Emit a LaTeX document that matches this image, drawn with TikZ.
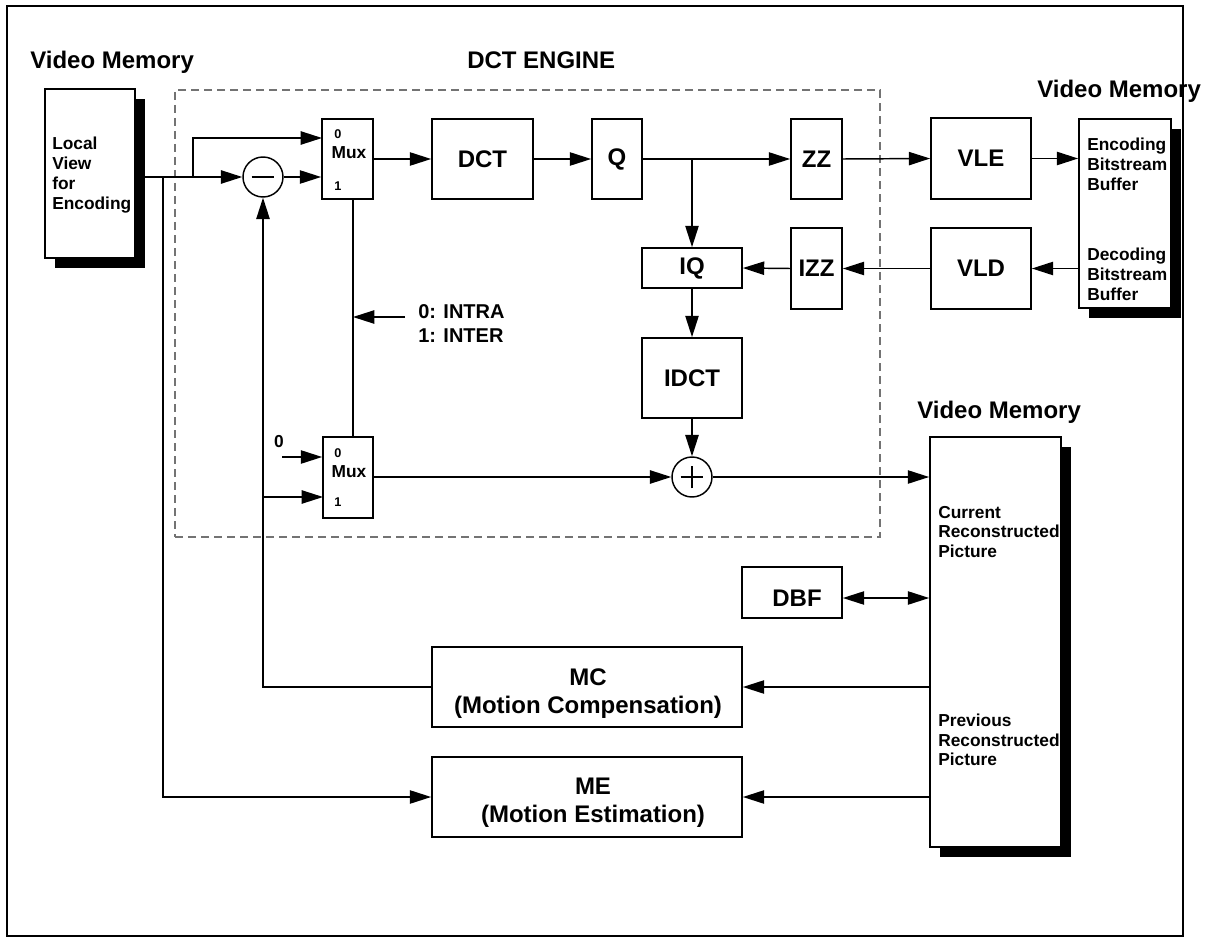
\documentclass[tikz,border=0pt]{standalone}
\usepackage{fontspec}
\setmainfont{Liberation Sans}
\usetikzlibrary{arrows.meta,shadows,calc}
\begin{document}
\begin{tikzpicture}[x=0.75pt,y=-0.75pt,
  lw/.style={line width=1.1pt},
  tip/.style={Triangle[length=16pt,width=10pt]},
  arr/.style={lw,-{Triangle[length=16pt,width=10pt]}},
  bx/.style 2 args={draw,line width=1.3pt,fill=white,inner sep=0pt,minimum width=#1*0.75pt,minimum height=#2*0.75pt,font=\fontsize{18}{22}\selectfont\bfseries},
  shd/.style={drop shadow={shadow xshift=7.5pt,shadow yshift=-7.5pt,fill=black,opacity=1}},
  circ/.style={draw,circle,fill=white,line width=1.1pt,minimum size=30pt,inner sep=0pt},
  big/.style={font=\fontsize{18}{21}\selectfont\bfseries,inner sep=0pt},
  small/.style={font=\fontsize{13}{15}\selectfont\bfseries,align=left,inner sep=0pt,anchor=north west},
  digit/.style={font=\fontsize{9.5}{11}\selectfont\bfseries,inner sep=0pt},
  muxt/.style={font=\fontsize{13}{15}\selectfont\bfseries,inner sep=0pt},
]
\useasboundingbox (0,0) rectangle (1214,938);

% DCT engine dashed box
\node[draw=black!55,line width=0.8pt,dash pattern=on 6pt off 3.75pt,inner sep=0pt,
      minimum width=705*0.75pt,minimum height=447*0.75pt] (eng) at (527.5,313.5) {};

% titles
\node[big,anchor=base west] (vm1) at (30,69) {Video Memory};
\node[big,anchor=base west] (engt) at (467,69) {DCT ENGINE};
\node[big,anchor=base west] (vm2) at (1037,98) {Video Memory};
\node[big,anchor=base west] (vm3) at (917,418) {Video Memory};

% memories
\node[bx={90}{169},shd] (lv) at (90,173.5) {};
\node[small] (lvt) at (52,136.5) {Local\\View\\for\\Encoding};
\node[bx={92}{189},shd] (enc) at (1125,213.5) {};
\node[small] (enct) at (1087,137.5) {Encoding\\Bitstream\\Buffer};
\node[small] (dect) at (1087,247.5) {Decoding\\Bitstream\\Buffer};
\node[bx={131}{410},shd] (mem) at (995.5,642) {};
\node[small,font=\fontsize{13}{14.5}\selectfont\bfseries] (curt) at (938,506) {Current\\Reconstructed\\Picture};
\node[small,font=\fontsize{13}{14.5}\selectfont\bfseries] (prevt) at (938,714) {Previous\\Reconstructed\\Picture};

% processing blocks
\node[bx={51}{80}] (mux1) at (347.5,159) {};
\node[digit] (m1z) at (338,134) {0};
\node[muxt] (m1m) at (349,153) {Mux};
\node[digit] (m1o) at (338,186) {1};
\node[bx={101}{80}] (dct) at (482.5,159) {DCT};
\node[bx={50}{80}] (q) at (617,159) {Q};
\node[bx={51}{80}] (zz) at (816.5,159) {ZZ};
\node[bx={100}{81}] (vle) at (981,158.5) {VLE};
\node[bx={100}{40}] (iq) at (692,268) {IQ};
\node[bx={51}{81}] (izz) at (816.5,268.5) {IZZ};
\node[bx={100}{81}] (vld) at (981,268.5) {VLD};
\node[bx={100}{80}] (idct) at (692,378) {IDCT};
\node[circ] (sub) at (263,177) {};
\node[circ] (add) at (692,477) {};
\node[bx={50}{81}] (mux2) at (348,477.5) {};
\node[digit] (m2z) at (338,453) {0};
\node[muxt] (m2m) at (349,472) {Mux};
\node[digit] (m2o) at (338,502) {1};
\node[bx={100}{51}] (dbf) at (792,592.5) {};
\node[big] (dbft) at (797,598) {DBF};
\node[bx={310}{80}] (mc) at (587,687) {};
\node[big,align=center] (mct) at (588,694) {MC\\(Motion Compensation)};
\node[bx={310}{80}] (me) at (587,797) {};
\node[big,align=center] (met) at (593,803) {ME\\(Motion Estimation)};

% labels
\node[small,font=\fontsize{15}{18}\selectfont\bfseries] (selt) at (418,304) {0: INTRA\\1: INTER};
\node[muxt] (zt) at (279,442) {0};

% signs
\draw[lw] ([xshift=-8.6pt]sub.center) -- ([xshift=8.6pt]sub.center);
\draw[lw] ([xshift=-8.6pt]add.center) -- ([xshift=8.6pt]add.center);
\draw[lw] ([yshift=-8.6pt]add.center) -- ([yshift=8.6pt]add.center);

% coordinates
\coordinate (j0) at (163,177);
\coordinate (j1) at (193,177);
\coordinate (m1i0) at (322,138);
\coordinate (qj) at (692,159);
\coordinate (sel) at (353,317);
\coordinate (selsrc) at (405,317);
\coordinate (zsrc) at (282,457);
\coordinate (m2i1) at (323,497);

% connectors
\draw[lw] (lv.east |- j0) -- (j1);
\draw[arr] (j1) -- (sub.west);
\draw[arr] (j1) |- (m1i0);
\draw[arr] (sub.east) -- (mux1.west |- sub.east);
\draw[arr] (j0) |- (me.west);
\draw[arr] (mux1.east) -- (dct.west);
\draw[arr] (dct.east) -- (q.west);
\draw[arr] (q.east) -- (zz.west);
\draw[arr] (qj) -- (iq.north);
\draw[arr] (zz.east) -- (vle.west);
\draw[arr] (vle.east) -- (enc.west |- vle.east);
\draw[arr] (enc.west |- vld.east) -- (vld.east);
\draw[arr] (vld.west) -- (izz.east);
\draw[arr] (izz.west) -- (iq.east);
\draw[arr] (iq.south) -- (idct.north);
\draw[arr] (idct.south) -- (add.north);
\draw[arr] (mux2.east |- add.west) -- (add.west);
\draw[arr] (add.east) -- (mem.west |- add.east);
\draw[lw] (sel |- mux1.south) -- (sel |- mux2.north);
\draw[arr] (selsrc) -- (sel);
\draw[arr] (zsrc) -- (mux2.west |- zsrc);
\draw[arr] (mc.west) -| (sub.south);
\draw[arr] (sub.south |- m2i1) -- (m2i1);
\draw[arr] (mem.west |- mc.east) -- (mc.east);
\draw[arr] (mem.west |- me.east) -- (me.east);
\draw[lw,{Triangle[length=16pt,width=10pt]}-{Triangle[length=16pt,width=10pt]}] (dbf.east |- dbft) -- (mem.west |- dbft);

% outer frame
\node[draw,line width=1.5pt,inner sep=0pt,minimum width=1176*0.75pt,minimum height=930*0.75pt] (frame) at (595,471) {};
\end{tikzpicture}
\end{document}
